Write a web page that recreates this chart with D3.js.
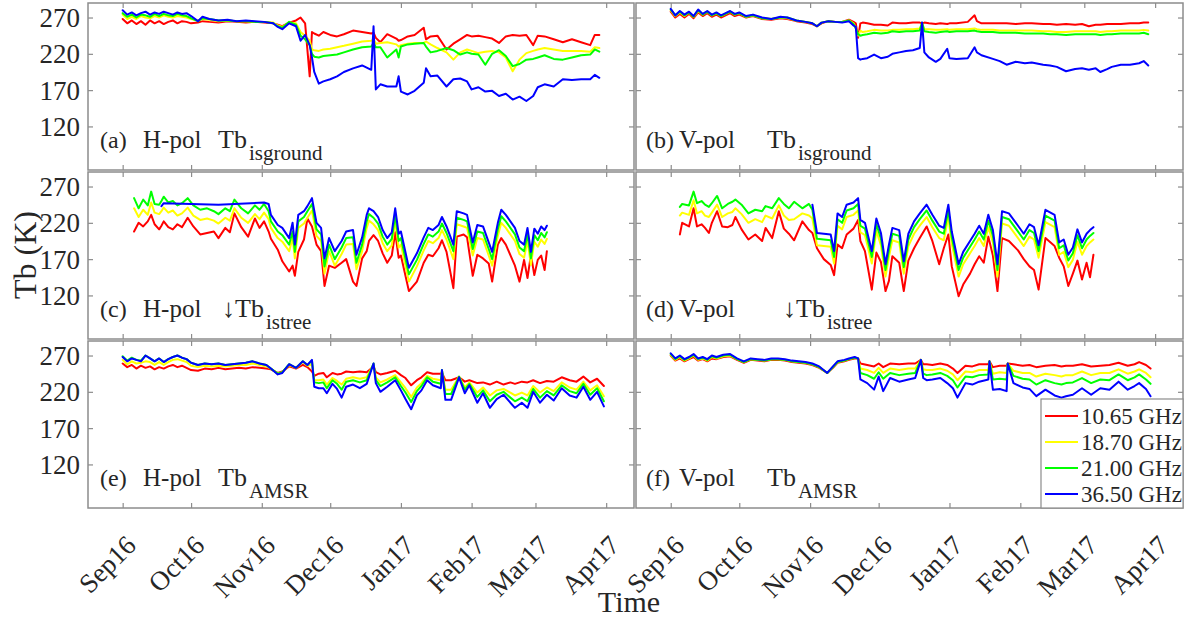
<!DOCTYPE html>
<html><head><meta charset="utf-8">
<script src="https://cdn.jsdelivr.net/npm/d3@7"></script>
<style>
body{margin:0;background:#fff}
svg{display:block}
text{font-family:"Liberation Serif","Times New Roman",serif;fill:#262626}
</style>
</head><body>
<svg id="chart" width="1195" height="621"></svg>
<script>
// ---------- categories / ticks ----------
const seriesNames = ["10.65 GHz", "18.70 GHz", "21.00 GHz", "36.50 GHz"];
const seriesColors = ["#ff0000", "#ffff00", "#00ff00", "#0000ff"];
const monthTickDays = [0, 30, 61, 91, 122, 153, 181, 212]; // days since 2016-09-01
const monthLabels = ["Sep16", "Oct16", "Nov16", "Dec16", "Jan17", "Feb17", "Mar17", "Apr17"];
const yTicks = [120, 170, 220, 270];
const yLabel = "Tb (K)";
const xLabel = "Time";

// ---------- panel (a) H-pol Tb_isground ----------
const daysA = [0,2,4,6,8,10,12,14,16,18,20,22,24,26,28,30,33,35,38,42,46,50,54,58,62,66,68,70,73,76,78,80,82,83,84,86,88,91,94,97,101,105,109,110,111,113,116,120,121,122,125,128,132,133,135,138,142,145,148,151,153,156,159,162,165,168,171,174,177,180,182,185,189,193,197,201,205,207,209];
const a1065 = [268,262,266,261,265,260,266,262,265,261, 264,266,262,265,264,262,263,265,264,263, 265,264,263,264,263,262,260,258,263,266, 270,262,189,250,248,245,250,246,244,247, 252,250,248,249,242,236,247,241,238,239, 244,246,256,240,244,245,226,234,240,246, 244,245,243,241,235,244,246,245,246,232, 245,244,240,236,240,236,232,246,246];
const a1870 = [274,268,271,268,272,270,269,272,270,273, 271,270,272,271,270,268,266,268,267,265, 266,265,265,264,264,263,259,257,263,262, 250,245,238,226,225,224,226,227,229,231, 234,237,238,240,234,235,236,233,230,232, 234,235,235,237,233,228,222,212,222,226, 224,221,223,224,222,215,196,212,221,224, 226,228,226,224,224,224,223,229,228];
const a2100 = [276,271,274,270,274,273,271,275,272,275, 273,272,275,273,272,269,265,269,268,266, 266,265,265,264,264,262,258,256,264,260, 245,240,232,220,216,215,217,218,219,222, 226,229,230,235,229,229,215,226,215,230, 233,234,235,230,222,224,228,225,219,222, 220,219,205,220,225,217,203,206,212,213, 215,218,213,212,215,218,219,226,223];
const a3650 = [280,274,277,273,276,278,274,277,275,278, 276,274,277,275,276,272,265,271,268,266, 267,265,266,265,264,262,257,254,262,258, 238,246,232,215,195,179,182,185,189,195, 200,204,198,258,171,178,175,175,189,168, 164,169,180,200,189,190,175,185,186,182, 171,174,168,169,162,165,157,161,155,162, 174,178,175,185,184,185,185,191,187];

// ---------- panel (b) V-pol Tb_isground ----------
const daysB = [0,2,4,6,8,10,12,14,16,18,20,22,24,26,28,30,33,36,40,44,48,51,55,59,62,64,66,69,72,75,78,80,81,82,83,84,86,89,92,95,97,100,103,106,109,110,111,113,116,118,121,122,125,130,133,134,136,141,144,147,151,155,158,163,166,169,173,177,180,183,186,188,191,193,197,201,205,207,209];
const b1065 = [278,270,275,270,275,269,277,272,276,271, 274,270,273,276,272,274,270,272,268,267, 269,268,265,263,261,258,262,265,264,264, 267,264,262,242,262,263,262,260,260,259, 263,262,262,263,263,262,263,262,261,262, 261,262,262,264,273,265,262,262,262,262, 261,262,262,261,261,260,261,260,261,258, 260,260,261,261,261,262,262,263,263];
const b1870 = [280,272,277,272,277,271,279,274,278,273, 276,272,275,278,274,276,271,273,269,268, 270,269,266,264,262,258,263,265,264,264, 266,262,256,245,252,250,251,253,252,252, 253,253,254,254,255,262,254,254,253,253, 254,253,254,254,255,254,253,253,252,252, 252,252,252,251,251,250,250,251,251,251, 251,250,251,251,252,252,252,253,252];
const b2100 = [281,273,278,273,277,271,280,274,278,273, 276,272,275,278,274,276,271,273,269,268, 270,270,266,264,262,258,263,265,264,264, 266,261,255,247,245,246,247,249,248,249, 251,250,251,251,252,263,251,250,249,250, 251,250,251,251,252,251,250,250,249,249, 249,248,248,248,247,247,246,247,247,247, 247,246,247,247,248,248,248,249,247];
const b3650 = [282,273,279,274,278,272,281,275,279,274, 277,273,276,279,275,277,272,274,270,268, 271,270,266,264,262,258,263,265,264,263, 265,259,257,214,212,213,214,219,214,216, 220,222,224,225,228,263,222,215,209,213, 227,214,213,214,229,222,218,213,210,205, 209,207,208,205,204,202,196,199,200,198, 200,195,199,202,205,205,207,210,204];

// ---------- panel (c) H-pol downwelling Tb_istree ----------
const daysC = [5,7,9,11,12.5,14,16,17,18,20,22,24,26,28.5,31,34,37,40,42,45,47,49,52,55,58,60,62,64,65,68,70,73,74.5,75.5,77,79.5,81,83,85,87,88.5,90.5,93,96,98,101,102.5,105,107,108,110,112,114,116,118,119.5,121,122,125.5,129,132,134,136,138.5,140,142,145,146.5,149.5,151,153.5,155.5,158,160.5,162,164.5,166,168,172,174,176,177.5,179,180.5,182,183.5,185,186];
const c1065 = [208,220,215,222,231,218,211,216,222,214, 211,218,214,227,215,204,206,208,199,213, 207,233,214,201,226,213,222,208,198,183, 167,153,161,147,180,197,226,215,190,181, 133,161,158,165,170,139,133,171,181,195, 203,195,178,165,175,207,172,175,126,139, 165,176,174,185,196,180,130,201,204,200, 147,176,171,164,139,190,199,190,161,139, 169,144,176,148,169,175,155,181];
const c1870 = [240,228,238,231,248,234,232,236,241,234, 237,230,233,241,230,224,226,223,219,227, 223,240,227,220,232,225,234,225,213,199, 194,181,199,171,213,219,227,237,202,195, 150,181,161,177,190,191,156,181,213,223, 218,210,192,181,189,222,186,190,139,160, 182,195,192,199,210,197,170,218,215,213, 175,199,197,175,161,202,220,213,195,177, 172,195,162,194,187,197,191,198];
const c2100 = [254,240,252,244,263,246,245,250,256,248, 250,244,247,254,244,238,240,236,232,240, 236,252,240,233,244,238,246,236,222,208, 203,190,208,180,222,228,236,246,211,204, 160,190,170,186,199,200,165,190,222,232, 227,219,201,190,198,231,195,199,149,169, 191,204,201,208,219,206,181,227,224,222, 184,208,206,184,170,211,229,222,204,186, 181,204,171,203,196,206,200,207];
const c3650 = [null,null,null,null,null,null,null,243,247,null, null,null,null,null,null,null,null,null,245,null, null,null,null,null,null,null,248,246,231,217, 213,199,220,190,231,236,243,254,220,213, 171,199,181,195,208,210,176,200,231,240, 236,228,210,199,207,240,205,208,158,178, 200,213,210,217,228,215,190,236,233,231, 193,217,215,193,180,220,238,231,213,195, 190,213,180,212,205,215,210,216];

// ---------- panel (d) V-pol downwelling Tb_istree ----------
const daysD = [4,5,8,10,11.5,13.5,15,16.7,18,20.3,22.5,25,27,28.3,31,34,37,40,41.5,44.4,47.3,49.5,51.7,54,57.6,60.5,62,64,67,70,71.5,73,75,77,80,82,83,85,88,90,92,94,95.5,97,100,102,104,106.5,109,112,114.5,117.5,119.5,121.5,123,126,128,131,133,135,137,139,141,143,145,148,152,154.5,157,159,161,164,168,170,172,174,176,178,180,182,183.5,185];
const d1065 = [204,220,215,240,215,218,213,206,220,236, 215,214,217,228,211,197,204,195,213,199, 236,212,205,196,222,210,206,185,170,162, 148,190,185,204,212,224,195,181,128,179, 166,126,140,174,165,126,168,185,199,215, 195,163,185,204,160,119,135,150,163,174, 165,201,175,126,199,195,182,170,160,155, 128,199,188,172,160,133,150,168,142,165, 145,176];
const d1870 = [230,234,231,251,233,236,230,228,234,245, 228,233,235,240,232,220,225,221,230,226, 244,230,224,225,233,230,226,189,188,187, 164,216,211,228,231,237,207,203,164,209, 189,146,173,196,193,150,188,205,216,228, 214,199,196,228,191,146,163,178,188,199, 188,214,193,146,219,216,199,188,201,197, 172,221,214,176,180,159,169,194,176,188, 193,197];
const d2100 = [242,246,244,263,247,250,245,242,247,257, 240,246,249,252,245,233,238,236,243,240, 254,246,240,249,240,246,238,198,197,196, 173,225,220,237,240,246,216,212,173,218, 198,155,182,205,202,159,197,214,225,237, 223,208,205,237,200,155,172,187,197,208, 197,223,202,155,228,225,208,197,210,206, 181,230,223,185,189,168,178,203,185,197, 202,206];
const d3650 = [null,null,null,null,null,null,null,null,null,null, null,null,null,null,null,null,null,null,null,null, null,null,null,null,null,null,245,206,205,204, 181,233,228,245,248,254,224,220,181,226, 206,163,190,213,210,167,205,222,233,245, 231,216,213,245,208,163,180,195,205,216, 205,231,210,163,236,233,216,205,218,214, 189,238,231,193,197,176,186,211,193,205, 210,214];

// ---------- panel (e) H-pol Tb_AMSR ----------
const daysE = [0,2,4,6,8,10,12,14,16,18,20,22,24,26,28,30,33,36,39,42,45,48,51,54,57,60,63,65,68,70,73,76,79,81,83,84,86,88,89.5,92,94,96,98,101,104,107,110,111,113,116,119.5,122,124,126.5,129,131,133.5,136,139.5,140,141.5,144,147.5,150,152,155.5,158,161,164,167,170,172,175,177.5,180,183,186,189,192.5,196,199,202,205,208,211];
const e1065 = [259,254,257,252,256,253,255,251,254,252, 255,257,254,256,253,250,249,252,251,253, 251,252,253,252,254,253,252,251,246,248, 255,252,257,254,248,242,245,246,240,246, 244,245,248,247,248,247,255,247,244,246, 249,243,239,229,236,240,247,245,245,246, 236,236,240,234,236,232,233,230,234,230, 233,231,234,233,236,232,235,234,240,236, 234,241,233,238,228];
const e1870 = [264,258,262,259,260,262,261,257,261,257, 261,264,265,263,261,256,254,256,255,256, 255,256,257,257,259,257,255,252,245,247, 257,253,261,256,258,236,236,237,230,239, 235,230,238,240,238,240,258,240,233,237, 243,233,225,213,226,232,242,238,236,249, 223,223,241,226,233,219,226,215,222,224, 219,215,219,215,228,219,226,221,233,226, 223,234,222,229,214];
const e2100 = [269,263,267,264,263,270,266,262,266,261, 265,268,270,267,265,260,257,259,258,259, 257,258,259,260,262,259,257,252,245,247, 258,253,262,257,263,233,232,233,225,236, 231,223,234,236,233,236,259,236,228,233, 240,228,219,206,221,228,240,234,231,250, 217,217,241,223,231,213,222,207,216,220, 212,207,212,207,224,212,221,215,229,221, 218,231,216,225,207];
const e3650 = [268,262,266,264,262,270,266,262,266,261, 265,268,270,267,265,260,257,259,258,259, 257,258,259,260,262,259,257,252,244,246, 258,253,262,257,264,227,225,225,218,231, 224,212,227,230,225,231,259,232,220,227, 236,222,210,196,215,222,236,229,225,250, 209,209,240,218,229,205,218,198,210,216, 205,198,205,198,220,205,216,208,225,215, 212,227,209,220,200];

// ---------- panel (f) V-pol Tb_AMSR ----------
const daysF = [0,2,4,6,8,10,12,14,16,18,20,23,26,29,32,35,38,41,44,47,50,53,56,59,62,65,68.5,71,73,76,78,80.5,82,83,86,89,91,93,96,100,104,107,109.5,110.5,112,114.5,118,121,123.5,125.5,129,132,135,139,139.5,141,144,147,147.5,150,154,157,160,164,168,171,173,176,180,184,188,192,196,200,203,205,208,210];
const f1065 = [270,263,266,262,265,268,263,265,262,266, 265,268,269,264,260,264,263,262,264,264, 263,261,260,259,257,253,246,253,260,262, 264,266,266,259,257,255,259,254,259,258, 259,259,264,258,258,257,259,257,252,246, 256,255,258,258,262,254,256,256,259,258, 256,257,254,256,257,255,256,256,258,255, 256,257,260,256,258,261,257,252];
const f1870 = [271,264,268,263,266,270,264,266,263,268, 266,269,270,265,261,265,264,263,265,265, 264,262,261,260,258,254,246,254,261,263, 265,267,266,252,250,246,253,246,252,250, 252,252,264,251,250,250,252,249,244,236, 248,247,250,250,262,245,247,246,259,249, 246,246,241,245,243,241,243,243,248,243, 246,246,251,245,248,251,246,240];
const f2100 = [272,265,269,264,267,271,265,267,264,269, 267,270,271,265,261,265,264,263,265,265, 264,262,261,260,258,254,246,254,261,263, 265,267,266,246,243,238,247,238,246,243, 245,246,264,245,243,244,246,242,236,226, 241,240,243,244,262,237,238,237,259,242, 238,237,230,236,232,230,232,233,239,232, 237,236,244,236,240,244,237,231];
const f3650 = [273,266,270,265,268,272,266,268,265,270, 268,271,272,266,262,266,265,264,266,266, 265,263,262,261,259,255,246,255,262,264, 266,268,266,237,232,223,241,221,239,234, 237,239,264,239,236,237,239,232,225,212, 232,230,234,237,262,223,224,221,259,232, 226,224,214,223,215,212,214,216,225,216, 225,223,234,223,228,232,224,214];

// ---------- panel texts ----------
const panelTags = ["(a)", "(b)", "(c)", "(d)", "(e)", "(f)"];
const panelPols = ["H-pol", "V-pol", "H-pol", "V-pol", "H-pol", "V-pol"];
const panelVars = ["Tb", "Tb", "\u2193Tb", "\u2193Tb", "Tb", "Tb"];
const panelSubs = ["isground", "isground", "istree", "istree", "AMSR", "AMSR"];

// ---------- layout ----------
const base = new Date(2016, 8, 1);
const toDate = d => new Date(base.getTime() + d * 864e5);
const colX = [88, 636], colW = [546, 547];
const rowY = [3, 172, 341], rowH = 167;
const frameColor = "#8c8c8c";

const panels = [
  {days: daysA, series: [a1065, a1870, a2100, a3650], col: 0, row: 0},
  {days: daysB, series: [b1065, b1870, b2100, b3650], col: 1, row: 0},
  {days: daysC, series: [c1065, c1870, c2100, c3650], col: 0, row: 1},
  {days: daysD, series: [d1065, d1870, d2100, d3650], col: 1, row: 1},
  {days: daysE, series: [e1065, e1870, e2100, e3650], col: 0, row: 2},
  {days: daysF, series: [f1065, f1870, f2100, f3650], col: 1, row: 2}
];
panels.forEach((p, i) => p.series.forEach((s, j) => {
  if (s.length !== p.days.length) console.error("length mismatch panel", i, "series", j, s.length, p.days.length);
}));

const svg = d3.select("#chart");
const xBase = d3.scaleTime().domain([toDate(-15.2), toDate(224.2)]);
const yBase = d3.scaleLinear().domain([60, 290]);
const monthDates = monthTickDays.map(toDate);

const defs = svg.append("defs");

panels.forEach((p, i) => {
  const x0 = colX[p.col], w = colW[p.col], top = rowY[p.row];
  const xs = xBase.copy().range([x0, x0 + w]);
  const ys = yBase.copy().range([top + rowH, top]);
  const g = svg.append("g");

  defs.append("clipPath").attr("id", "clip" + i)
    .append("rect").attr("x", x0).attr("y", top).attr("width", w).attr("height", rowH);

  // lines
  const line = d3.line().x(d => xs(d[0])).y(d => ys(d[1])).curve(d3.curveLinear);
  const lg = g.append("g").attr("clip-path", `url(#clip${i})`);
  p.series.forEach((vals, j) => {
    const pts = p.days.map((d, k) => [toDate(d), vals[k]]).filter(q => q[1] != null);
    lg.append("path").attr("d", line(pts)).attr("fill", "none")
      .attr("stroke", seriesColors[j]).attr("stroke-width", 2)
      .attr("stroke-linejoin", "round").attr("stroke-linecap", "round");
  });

  // axes (ticks inward)
  const styleAx = sel => { sel.select(".domain").remove(); sel.selectAll(".tick line").attr("stroke", frameColor).attr("stroke-width", 1.2); sel.selectAll(".tick text").remove(); };
  g.append("g").attr("transform", `translate(0,${top + rowH})`).call(d3.axisBottom(xs).tickValues(monthDates).tickSize(-5).tickFormat("")).call(styleAx);
  g.append("g").attr("transform", `translate(0,${top})`).call(d3.axisTop(xs).tickValues(monthDates).tickSize(-5).tickFormat("")).call(styleAx);
  g.append("g").attr("transform", `translate(${x0},0)`).call(d3.axisLeft(ys).tickValues(yTicks).tickSize(-5).tickFormat("")).call(styleAx);
  g.append("g").attr("transform", `translate(${x0 + w},0)`).call(d3.axisRight(ys).tickValues(yTicks).tickSize(-5).tickFormat("")).call(styleAx);

  // frame
  g.append("rect").attr("x", x0).attr("y", top).attr("width", w).attr("height", rowH)
    .attr("fill", "none").attr("stroke", frameColor).attr("stroke-width", 1.5);

  // y tick labels (left column only)
  if (p.col === 0) {
    g.selectAll(".ylab").data(yTicks).enter().append("text")
      .attr("x", x0 - 8).attr("y", d => ys(d)).attr("dy", "0.35em")
      .attr("text-anchor", "end").style("font-size", "27px").text(d => d);
  }
  // x tick labels (bottom row only)
  if (p.row === 2) {
    g.selectAll(".xlab").data(monthDates).enter().append("text")
      .attr("transform", (d) => `translate(${xs(d) + 15},${top + rowH + 39}) rotate(-45)`)
      .attr("text-anchor", "end").style("font-size", "27px")
      .text((d, k) => monthLabels[k]);
  }

  // panel label
  const by = top + 145;
  const left = p.col === 0;
  const tagX = x0 + (left ? 12 : 10);
  const polX = x0 + (left ? 55 : 43);
  const isArrow = panelVars[i].startsWith("\u2193");
  const varX = x0 + (isArrow ? (left ? 134 : 147) : (left ? 130 : 131));
  g.append("text").attr("x", tagX).attr("y", by).style("font-size", "24px").text(panelTags[i]);
  g.append("text").attr("x", polX).attr("y", by).style("font-size", "25px").text(panelPols[i]);
  const vt = g.append("text").attr("x", varX).attr("y", by).style("font-size", "26px");
  vt.append("tspan").text(panelVars[i]);
  vt.append("tspan").attr("dx", 2).attr("dy", 12).style("font-size", "21px").text(panelSubs[i]);
});

// legend
const lgX = 1041, lgY = 399, lgW = 142, lgH = 109;
const leg = svg.append("g");
leg.append("rect").attr("x", lgX).attr("y", lgY).attr("width", lgW).attr("height", lgH)
  .attr("fill", "#fff").attr("stroke", frameColor).attr("stroke-width", 1.2);
seriesNames.forEach((n, j) => {
  const cy = lgY + 17 + j * 26;
  leg.append("line").attr("x1", lgX + 4).attr("x2", lgX + 37).attr("y1", cy).attr("y2", cy)
    .attr("stroke", seriesColors[j]).attr("stroke-width", 2);
  leg.append("text").attr("x", lgX + 40).attr("y", cy).attr("dy", "0.35em")
    .style("font-size", "23px").text(n);
});

// axis titles
svg.append("text").attr("transform", "translate(36,255) rotate(-90)")
  .attr("text-anchor", "middle").style("font-size", "32px").text(yLabel);
svg.append("text").attr("x", 629).attr("y", 612)
  .attr("text-anchor", "middle").style("font-size", "30px").text(xLabel);
</script>
</body></html>
